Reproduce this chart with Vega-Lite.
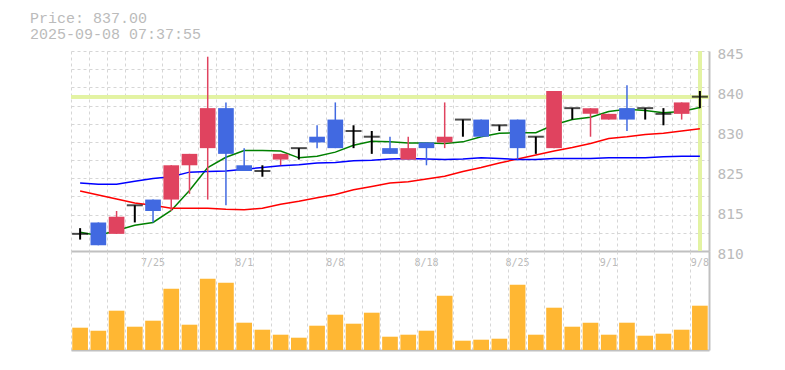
{
  "$schema": "https://vega.github.io/schema/vega-lite/v6.json",
  "background": "white",
  "padding": {"left": 30, "top": 10, "right": 5, "bottom": 5},
  "title": {
    "text": "Price: 837.00",
    "subtitle": "2025-09-08 07:37:55",
    "anchor": "start",
    "frame": "group",
    "dx": -41,
    "offset": 4.5,
    "font": "Liberation Mono",
    "fontSize": 15,
    "fontWeight": "normal",
    "color": "#bbbbbb",
    "subtitleFont": "Liberation Mono",
    "subtitleFontSize": 15,
    "subtitleColor": "#bbbbbb",
    "subtitlePadding": 1
  },
  "datasets": {
    "d": [
      {"date": "7/18", "open": 813, "high": 814, "low": 812, "close": 813, "ma5": 813.3, "ma25": 820.5, "ma75": 821.9, "vol": 22300},
      {"date": "7/22", "open": 815, "high": 815, "low": 811, "close": 811, "ma5": 812.7, "ma25": 819.8, "ma75": 821.7, "vol": 19300},
      {"date": "7/23", "open": 813, "high": 817, "low": 813, "close": 816, "ma5": 813.6, "ma25": 819.1, "ma75": 821.7, "vol": 39300},
      {"date": "7/24", "open": 818, "high": 818, "low": 815, "close": 818, "ma5": 814.5, "ma25": 818.4, "ma75": 822.2, "vol": 23300},
      {"date": "7/25", "open": 819, "high": 819, "low": 815, "close": 817, "ma5": 815.0, "ma25": 818.0, "ma75": 822.7, "vol": 29300},
      {"date": "7/28", "open": 819, "high": 825, "low": 817, "close": 825, "ma5": 817.1, "ma25": 817.5, "ma75": 823.0, "vol": 61300},
      {"date": "7/29", "open": 825, "high": 827, "low": 820, "close": 827, "ma5": 820.6, "ma25": 817.5, "ma75": 823.8, "vol": 25300},
      {"date": "7/30", "open": 828, "high": 844, "low": 819, "close": 835, "ma5": 824.6, "ma25": 817.5, "ma75": 823.9, "vol": 71300},
      {"date": "7/31", "open": 835, "high": 836, "low": 818, "close": 827, "ma5": 826.4, "ma25": 817.3, "ma75": 824.0, "vol": 67300},
      {"date": "8/1", "open": 825, "high": 828, "low": 824, "close": 824, "ma5": 827.6, "ma25": 817.2, "ma75": 824.3, "vol": 27300},
      {"date": "8/4", "open": 824, "high": 825, "low": 823, "close": 824, "ma5": 827.6, "ma25": 817.5, "ma75": 824.6, "vol": 20300},
      {"date": "8/5", "open": 826, "high": 827, "low": 825, "close": 827, "ma5": 827.5, "ma25": 818.2, "ma75": 824.9, "vol": 15300},
      {"date": "8/6", "open": 828, "high": 828, "low": 826, "close": 828, "ma5": 826.3, "ma25": 818.7, "ma75": 825.1, "vol": 12300},
      {"date": "8/7", "open": 830, "high": 832, "low": 828, "close": 829, "ma5": 826.6, "ma25": 819.3, "ma75": 825.4, "vol": 24300},
      {"date": "8/8", "open": 833, "high": 836, "low": 828, "close": 828, "ma5": 827.3, "ma25": 819.9, "ma75": 825.5, "vol": 35300},
      {"date": "8/12", "open": 831, "high": 832, "low": 828, "close": 831, "ma5": 828.5, "ma25": 820.7, "ma75": 825.8, "vol": 26300},
      {"date": "8/13", "open": 830, "high": 831, "low": 827, "close": 830, "ma5": 829.2, "ma25": 821.3, "ma75": 825.9, "vol": 37300},
      {"date": "8/14", "open": 828, "high": 830, "low": 827, "close": 827, "ma5": 829.1, "ma25": 821.9, "ma75": 826.1, "vol": 13300},
      {"date": "8/15", "open": 826, "high": 830, "low": 826, "close": 828, "ma5": 828.9, "ma25": 822.1, "ma75": 826.2, "vol": 15300},
      {"date": "8/18", "open": 829, "high": 829, "low": 825, "close": 828, "ma5": 828.9, "ma25": 822.6, "ma75": 826.1, "vol": 19300},
      {"date": "8/19", "open": 829, "high": 836, "low": 828, "close": 830, "ma5": 828.8, "ma25": 823.1, "ma75": 826.0, "vol": 54300},
      {"date": "8/20", "open": 833, "high": 833, "low": 830, "close": 833, "ma5": 829.1, "ma25": 823.9, "ma75": 826.1, "vol": 9300},
      {"date": "8/21", "open": 833, "high": 833, "low": 830, "close": 830, "ma5": 830.0, "ma25": 824.6, "ma75": 826.3, "vol": 10300},
      {"date": "8/22", "open": 832, "high": 832, "low": 831, "close": 832, "ma5": 830.6, "ma25": 825.4, "ma75": 826.2, "vol": 11300},
      {"date": "8/25", "open": 833, "high": 833, "low": 826, "close": 828, "ma5": 830.7, "ma25": 826.1, "ma75": 826.0, "vol": 65300},
      {"date": "8/26", "open": 830, "high": 830, "low": 827, "close": 830, "ma5": 830.7, "ma25": 826.8, "ma75": 826.0, "vol": 15300},
      {"date": "8/27", "open": 828, "high": 838, "low": 828, "close": 838, "ma5": 832.1, "ma25": 827.5, "ma75": 826.2, "vol": 42300},
      {"date": "8/28", "open": 835, "high": 835, "low": 833, "close": 835, "ma5": 833.0, "ma25": 828.1, "ma75": 826.2, "vol": 23300},
      {"date": "8/29", "open": 834, "high": 835, "low": 830, "close": 835, "ma5": 833.4, "ma25": 828.8, "ma75": 826.2, "vol": 27300},
      {"date": "9/1", "open": 833, "high": 834, "low": 833, "close": 834, "ma5": 834.4, "ma25": 829.7, "ma75": 826.3, "vol": 15300},
      {"date": "9/2", "open": 835, "high": 839, "low": 831, "close": 833, "ma5": 834.8, "ma25": 830.0, "ma75": 826.3, "vol": 27300},
      {"date": "9/3", "open": 835, "high": 835, "low": 833, "close": 835, "ma5": 834.6, "ma25": 830.4, "ma75": 826.3, "vol": 14300},
      {"date": "9/4", "open": 834, "high": 835, "low": 832, "close": 834, "ma5": 834.2, "ma25": 830.6, "ma75": 826.5, "vol": 16300},
      {"date": "9/5", "open": 834, "high": 836, "low": 833, "close": 836, "ma5": 834.4, "ma25": 831.0, "ma75": 826.6, "vol": 20300},
      {"date": "9/8", "open": 837, "high": 838, "low": 835, "close": 837, "ma5": 835.1, "ma25": 831.4, "ma75": 826.6, "vol": 44300}
    ]
  },
  "spacing": 0,
  "bounds": "flush",
  "vconcat": [
    {
      "width": 638,
      "height": 200,
      "data": {"name": "d"},
      "resolve": {"axis": {"y": "independent"}},
      "layer": [
        {
          "mark": {"type": "rule", "color": "#e3f3a3", "strokeWidth": 3.5},
          "encoding": {
            "y": {"datum": 837, "type": "quantitative",
              "scale": {"domain": [810, 845], "nice": false, "zero": false},
              "axis": {"orient": "left", "values": [810, 813.1818, 816.3636, 819.5455, 822.7273, 825.9091, 829.0909, 832.2727, 835.4545, 838.6364, 841.8182, 845],
                "grid": true, "gridColor": "#d6d6d6", "gridDash": [3, 3], "gridWidth": 1,
                "labels": false, "ticks": false, "domain": false, "title": null}}
          }
        },
        {
          "mark": {"type": "rule", "color": "#e3f3a3", "strokeWidth": 3.5},
          "encoding": {
            "x": {"datum": "9/8", "type": "ordinal",
              "scale": {"domain": ["7/18","7/22","7/23","7/24","7/25","7/28","7/29","7/30","7/31","8/1","8/4","8/5","8/6","8/7","8/8","8/12","8/13","8/14","8/15","8/18","8/19","8/20","8/21","8/22","8/25","8/26","8/27","8/28","8/29","9/1","9/2","9/3","9/4","9/5","9/8"], "paddingInner": 0, "paddingOuter": 0},
              "axis": {"orient": "bottom", "bandPosition": 0, "grid": true, "gridColor": "#d6d6d6", "gridDash": [3, 3], "gridWidth": 1,
                "ticks": false, "domain": true, "domainColor": "#c0c0c0", "domainWidth": 2,
                "labelExpr": "indexof(['7/25','8/1','8/8','8/18','8/25','9/1','9/8'], datum.value) >= 0 ? datum.value : ''",
                "labelOffset": 0, "labelPadding": 6.5, "labelAngle": 0, "labelFont": "DejaVu Sans Mono", "labelFontSize": 10,
                "labelColor": "#bbbbbb", "labelOverlap": false, "labelBound": false, "labelFlush": false, "labelBaseline": "top", "title": null}}
          }
        },
        {
          "mark": {"type": "line", "color": "#008000", "strokeWidth": 1.5},
          "encoding": {
            "x": {"field": "date", "type": "ordinal",
              "scale": {"domain": ["7/18","7/22","7/23","7/24","7/25","7/28","7/29","7/30","7/31","8/1","8/4","8/5","8/6","8/7","8/8","8/12","8/13","8/14","8/15","8/18","8/19","8/20","8/21","8/22","8/25","8/26","8/27","8/28","8/29","9/1","9/2","9/3","9/4","9/5","9/8"], "paddingInner": 0, "paddingOuter": 0}},
            "y": {"field": "ma5", "type": "quantitative",
              "scale": {"domain": [810, 845], "nice": false, "zero": false},
              "axis": {"orient": "right", "values": [810, 817, 824, 831, 838, 845],
                "labelExpr": "format(round(datum.value / 5) * 5, 'd')",
                "grid": false, "ticks": false, "domain": true, "domainColor": "#c0c0c0", "domainWidth": 2,
                "labelPadding": 8, "labelOffset": 3, "labelBaseline": "middle",
                "labelFont": "DejaVu Sans Mono", "labelFontSize": 14.5, "labelColor": "#bbbbbb",
                "labelOverlap": false, "labelBound": false, "labelFlush": false, "title": null}}
          }
        },
        {
          "mark": {"type": "line", "color": "#ff0000", "strokeWidth": 1.5},
          "encoding": {
            "x": {"field": "date", "type": "ordinal",
              "scale": {"domain": ["7/18","7/22","7/23","7/24","7/25","7/28","7/29","7/30","7/31","8/1","8/4","8/5","8/6","8/7","8/8","8/12","8/13","8/14","8/15","8/18","8/19","8/20","8/21","8/22","8/25","8/26","8/27","8/28","8/29","9/1","9/2","9/3","9/4","9/5","9/8"], "paddingInner": 0, "paddingOuter": 0}},
            "y": {"field": "ma25", "type": "quantitative", "scale": {"domain": [810, 845], "nice": false, "zero": false}, "axis": null}
          }
        },
        {
          "mark": {"type": "line", "color": "#0000ff", "strokeWidth": 1.5},
          "encoding": {
            "x": {"field": "date", "type": "ordinal",
              "scale": {"domain": ["7/18","7/22","7/23","7/24","7/25","7/28","7/29","7/30","7/31","8/1","8/4","8/5","8/6","8/7","8/8","8/12","8/13","8/14","8/15","8/18","8/19","8/20","8/21","8/22","8/25","8/26","8/27","8/28","8/29","9/1","9/2","9/3","9/4","9/5","9/8"], "paddingInner": 0, "paddingOuter": 0}},
            "y": {"field": "ma75", "type": "quantitative", "scale": {"domain": [810, 845], "nice": false, "zero": false}, "axis": null}
          }
        },
        {
          "mark": {"type": "rule"},
          "encoding": {
            "x": {"field": "date", "type": "ordinal",
              "scale": {"domain": ["7/18","7/22","7/23","7/24","7/25","7/28","7/29","7/30","7/31","8/1","8/4","8/5","8/6","8/7","8/8","8/12","8/13","8/14","8/15","8/18","8/19","8/20","8/21","8/22","8/25","8/26","8/27","8/28","8/29","9/1","9/2","9/3","9/4","9/5","9/8"], "paddingInner": 0, "paddingOuter": 0}},
            "y": {"field": "low", "type": "quantitative", "scale": {"domain": [810, 845], "nice": false, "zero": false}, "axis": null},
            "y2": {"field": "high"},
            "color": {"condition": [{"test": "datum.close > datum.open", "value": "#e0435f"}, {"test": "datum.close < datum.open", "value": "#4169e1"}], "value": "#000000"},
            "strokeWidth": {"condition": {"test": "datum.close == datum.open", "value": 2}, "value": 1.5}
          }
        },
        {
          "transform": [{"filter": "datum.open != datum.close"}],
          "mark": {"type": "bar", "width": {"band": 0.86}},
          "encoding": {
            "x": {"field": "date", "type": "ordinal",
              "scale": {"domain": ["7/18","7/22","7/23","7/24","7/25","7/28","7/29","7/30","7/31","8/1","8/4","8/5","8/6","8/7","8/8","8/12","8/13","8/14","8/15","8/18","8/19","8/20","8/21","8/22","8/25","8/26","8/27","8/28","8/29","9/1","9/2","9/3","9/4","9/5","9/8"], "paddingInner": 0, "paddingOuter": 0}},
            "y": {"field": "open", "type": "quantitative", "scale": {"domain": [810, 845], "nice": false, "zero": false}, "axis": null},
            "y2": {"field": "close"},
            "color": {"condition": {"test": "datum.close > datum.open", "value": "#e0435f"}, "value": "#4169e1"}
          }
        },
        {
          "transform": [{"filter": "datum.open == datum.close"}],
          "mark": {"type": "tick", "color": "#000000", "thickness": 2, "size": 16},
          "encoding": {
            "x": {"field": "date", "type": "ordinal",
              "scale": {"domain": ["7/18","7/22","7/23","7/24","7/25","7/28","7/29","7/30","7/31","8/1","8/4","8/5","8/6","8/7","8/8","8/12","8/13","8/14","8/15","8/18","8/19","8/20","8/21","8/22","8/25","8/26","8/27","8/28","8/29","9/1","9/2","9/3","9/4","9/5","9/8"], "paddingInner": 0, "paddingOuter": 0}},
            "y": {"field": "close", "type": "quantitative", "scale": {"domain": [810, 845], "nice": false, "zero": false}, "axis": null}
          }
        }
      ]
    },
    {
      "width": 638,
      "height": 99,
      "data": {"name": "d"},
      "mark": {"type": "bar", "color": "#ffb733", "width": {"band": 0.86}},
      "encoding": {
        "x": {"field": "date", "type": "ordinal",
          "scale": {"domain": ["7/18","7/22","7/23","7/24","7/25","7/28","7/29","7/30","7/31","8/1","8/4","8/5","8/6","8/7","8/8","8/12","8/13","8/14","8/15","8/18","8/19","8/20","8/21","8/22","8/25","8/26","8/27","8/28","8/29","9/1","9/2","9/3","9/4","9/5","9/8"], "paddingInner": 0, "paddingOuter": 0},
          "axis": {"orient": "bottom", "bandPosition": 0, "grid": true, "gridColor": "#d6d6d6", "gridDash": [3, 3], "gridWidth": 1,
            "labels": false, "ticks": false, "domain": true, "domainColor": "#c0c0c0", "domainWidth": 2, "title": null}},
        "y": {"field": "vol", "type": "quantitative", "scale": {"domain": [0, 99000], "nice": false},
          "axis": {"orient": "right", "labels": false, "ticks": false, "grid": false, "domain": true, "domainColor": "#c0c0c0", "domainWidth": 2, "title": null}}
      }
    }
  ],
  "config": {
    "view": {"stroke": null},
    "axis": {"title": null}
  }
}
